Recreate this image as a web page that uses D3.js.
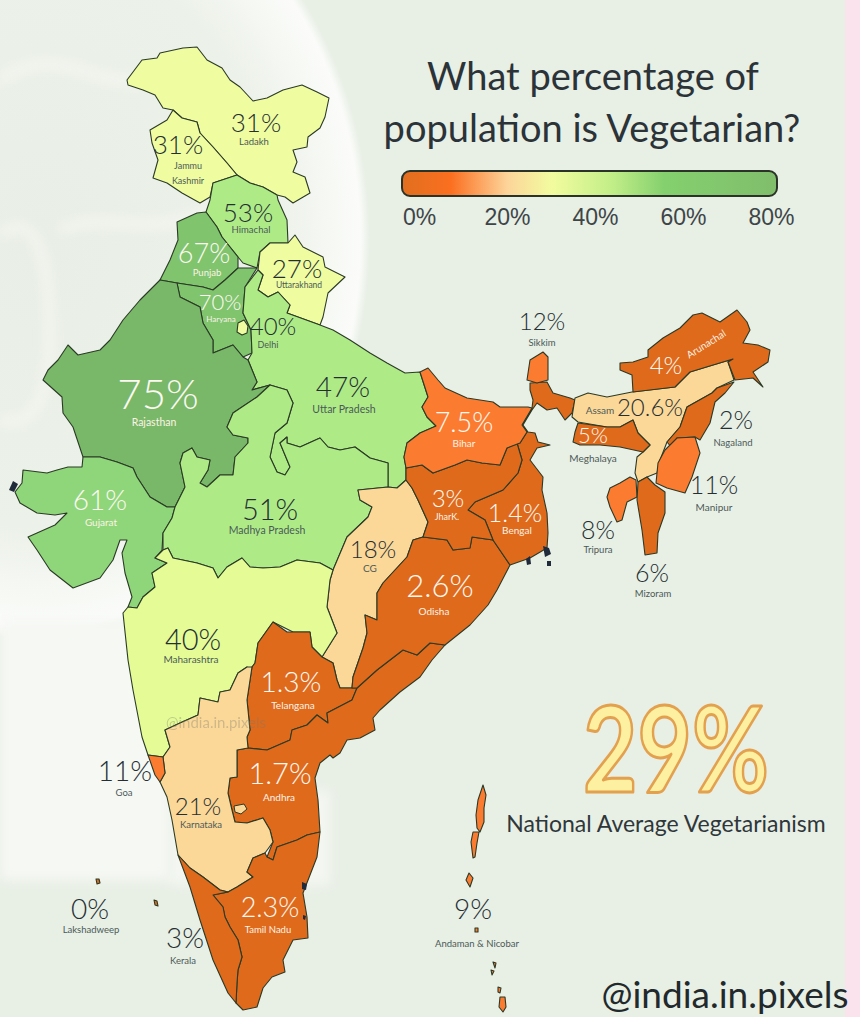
<!DOCTYPE html>
<html>
<head>
<meta charset="utf-8">
<script src="https://cdn.jsdelivr.net/npm/d3@7"></script>
<style>
html, body { margin: 0; padding: 0; background: #e8efe5; }
svg { display: block; font-family: "Lato", "Noto Sans", sans-serif; }
</style>
</head>
<body>
<div id="chart"></div>
<script>
const width = 860, height = 1017;

// Values
const stateNames = ["Ladakh", "Jammu Kashmir", "Himachal", "Punjab", "Haryana", "Uttarakhand", "Delhi", "Uttar Pradesh",
    "Rajasthan", "Gujarat", "Madhya Pradesh", "CG", "Maharashtra", "Telangana", "Andhra", "Karnataka", "Tamil Nadu",
    "Goa", "Kerala", "Lakshadweep", "Andaman & Nicobar", "Odisha", "Bengal", "JharK.", "Bihar", "Sikkim", "Assam",
    "Arunachal", "Meghalaya", "Nagaland", "Manipur", "Tripura", "Mizoram"];
const stateValues = [31, 31, 53, 67, 70, 27, 40, 47, 75, 61, 51, 18, 40, 1.3, 1.7, 21, 2.3, 11, 3, 0, 9, 2.6, 1.4, 3, 7.5, 12,
    20.6, 4, 5, 2, 11, 8, 6];
const legendTicks = [0, 20, 40, 60, 80];
const nationalAverage = 29;

// Boundaries, in map units
const shapes = {
    "Ladakh": [[[127,80],[142,60],[157,58],[160,53],[183,48],[197,47],[207,60],[222,68],[230,80],[240,87],[253,101],[267,98],[283,90],[302,85],[317,92],[329,98],[325,117],[320,128],[308,137],[307,147],[293,150],[297,162],[293,172],[305,177],[310,193],[293,203],[285,197],[277,195],[263,187],[250,183],[237,175],[227,163],[213,147],[200,133],[197,122],[182,118],[173,110],[163,108],[155,95],[143,90],[128,85]]],
    "Jammu Kashmir": [[[173,110],[167,120],[150,130],[152,143],[158,160],[153,178],[167,183],[182,193],[200,203],[210,197],[213,183],[237,175],[227,163],[213,147],[200,133],[197,122],[182,118]]],
    "Himachal": [[[237,175],[213,183],[210,200],[206,212],[217,227],[222,237],[230,247],[238,257],[243,263],[257,268],[260,252],[270,243],[288,243],[287,220],[278,200],[277,195],[263,187],[250,183]]],
    "Punjab": [[[206,212],[197,213],[177,222],[178,240],[170,260],[160,280],[177,283],[190,285],[203,287],[213,290],[225,280],[238,268],[238,257],[230,247],[222,237],[217,227]]],
    "Haryana": [[[257,268],[238,268],[225,280],[213,290],[203,287],[190,285],[177,283],[180,297],[200,307],[203,323],[213,340],[213,353],[233,345],[243,357],[252,353],[251,330],[243,313],[245,287]]],
    "Uttarakhand": [[[295,235],[288,243],[270,243],[260,252],[258,270],[263,275],[258,290],[268,297],[278,292],[290,305],[287,313],[320,325],[323,317],[328,293],[345,277],[325,267],[323,257],[303,247]]],
    "Delhi": [[[238,323],[244,320],[248,326],[247,333],[242,335],[237,332]]],
    "Uttar Pradesh": [[[245,287],[243,313],[251,330],[252,353],[248,360],[257,382],[252,390],[270,385],[287,390],[293,403],[287,423],[275,433],[270,457],[277,472],[285,475],[290,467],[280,443],[287,437],[287,443],[300,447],[320,438],[328,447],[340,450],[355,447],[370,458],[388,463],[388,487],[397,488],[406,480],[406,468],[404,457],[407,443],[420,433],[436,426],[427,417],[422,407],[428,397],[420,372],[405,373],[387,363],[370,353],[350,340],[333,330],[320,325],[287,313],[290,305],[278,292],[268,297],[258,290],[263,275],[258,270]]],
    "Rajasthan": [[[160,280],[140,300],[123,320],[110,340],[100,350],[78,355],[68,345],[58,360],[48,370],[43,380],[62,397],[63,413],[73,427],[83,457],[100,457],[117,462],[133,468],[137,477],[150,497],[167,507],[175,507],[185,487],[180,463],[183,453],[192,448],[197,457],[210,460],[208,470],[200,483],[207,487],[220,475],[233,475],[235,457],[248,443],[248,438],[233,435],[227,427],[233,413],[257,397],[270,385],[252,390],[257,382],[248,360],[243,357],[233,345],[213,353],[213,340],[203,323],[200,307],[180,297],[177,283]]],
    "Gujarat": [[[83,457],[82,467],[68,467],[57,470],[47,473],[23,470],[22,483],[15,492],[20,503],[37,513],[55,515],[67,513],[55,525],[37,533],[28,537],[37,550],[50,570],[73,588],[100,578],[113,560],[120,540],[127,540],[122,553],[125,573],[132,597],[128,607],[137,608],[143,597],[155,587],[152,573],[167,563],[155,558],[162,550],[163,533],[172,518],[175,507],[167,507],[150,497],[137,477],[133,468],[117,462],[100,457]]],
    "Madhya Pradesh": [[[175,507],[185,487],[180,463],[183,453],[192,448],[197,457],[210,460],[208,470],[200,483],[207,487],[220,475],[233,475],[235,457],[248,443],[248,438],[233,435],[227,427],[233,413],[257,397],[270,385],[287,390],[293,403],[287,423],[275,433],[270,457],[277,472],[285,475],[290,467],[280,443],[287,437],[287,443],[300,447],[320,438],[328,447],[340,450],[355,447],[370,458],[388,463],[388,487],[358,490],[360,500],[372,507],[368,517],[347,537],[333,570],[320,563],[297,560],[280,567],[263,568],[250,567],[242,558],[227,567],[218,578],[213,568],[197,563],[173,558],[168,548],[163,550],[163,533],[172,518]]],
    "CG": [[[388,487],[397,488],[406,480],[412,488],[418,500],[428,522],[423,537],[413,540],[407,557],[383,583],[377,593],[377,620],[365,615],[367,633],[363,648],[353,677],[352,688],[340,688],[337,680],[333,663],[322,657],[337,633],[327,607],[330,580],[333,570],[347,537],[368,517],[372,507],[360,500],[358,490]]],
    "Maharashtra": [[[128,607],[137,608],[143,597],[155,587],[152,573],[167,563],[155,558],[163,550],[168,548],[173,558],[197,563],[213,568],[218,578],[227,567],[242,558],[250,567],[263,568],[280,567],[297,560],[320,563],[333,570],[330,580],[327,607],[337,633],[322,657],[312,647],[310,632],[293,632],[273,622],[258,643],[255,663],[250,670],[247,667],[238,673],[230,690],[220,692],[218,702],[200,698],[198,715],[180,723],[165,730],[170,747],[163,757],[148,755],[142,737],[133,690],[128,660],[123,613]]],
    "Goa": [[[148,755],[163,757],[165,773],[160,782],[155,775]]],
    "Karnataka": [[[247,667],[238,673],[230,690],[220,692],[218,702],[200,698],[198,715],[180,723],[165,730],[170,747],[163,757],[165,773],[160,782],[167,797],[172,820],[178,855],[190,868],[203,877],[220,890],[228,892],[237,887],[253,877],[247,872],[253,858],[265,853],[273,842],[270,830],[263,818],[247,823],[235,822],[232,810],[228,793],[230,778],[237,777],[237,750],[248,748],[247,737],[250,730],[247,700],[252,667]]],
    "Telangana": [[[273,622],[287,632],[310,632],[312,647],[322,657],[333,663],[337,680],[340,688],[357,688],[352,700],[327,713],[328,723],[317,715],[307,725],[292,730],[290,740],[267,750],[248,748],[247,737],[250,730],[247,700],[252,667],[255,663],[258,643]]],
    "Andhra": [[[248,748],[237,750],[237,777],[230,778],[228,793],[232,810],[235,822],[247,823],[263,818],[270,830],[273,842],[267,857],[273,860],[277,847],[297,840],[307,835],[320,832],[318,800],[315,778],[320,763],[330,755],[333,758],[340,753],[347,740],[360,738],[375,730],[373,718],[380,710],[400,692],[420,677],[432,660],[445,645],[430,643],[417,655],[403,650],[377,670],[357,688],[352,700],[327,713],[328,723],[317,715],[307,725],[292,730],[290,740],[267,750]]],
    "Tamil Nadu": [[[320,832],[307,835],[297,840],[277,847],[273,860],[267,857],[265,853],[253,858],[247,872],[253,877],[237,887],[228,892],[213,895],[223,907],[225,917],[230,927],[238,940],[242,957],[238,970],[237,983],[236,1003],[243,1010],[257,1007],[263,988],[272,977],[285,972],[283,960],[293,940],[308,938],[307,917],[303,893],[317,857]]],
    "Kerala": [[[178,855],[190,868],[203,877],[220,890],[228,892],[213,895],[223,907],[225,917],[230,927],[238,940],[242,957],[238,970],[237,983],[236,1003],[228,993],[213,960],[200,920],[190,887]]],
    "Lakshadweep": [[[96,879],[99,879],[100,883],[97,884]], [[154,900],[157,901],[158,906],[155,905]]],
    "Andaman & Nicobar": [[[483,785],[486,795],[484,808],[484,822],[480,832],[477,828],[476,815],[478,800]], [[479,832],[477,843],[475,857],[473,858],[471,842],[473,832]], [[469,873],[473,878],[470,887],[466,880]], [[500,997],[505,997],[506,1007],[503,1012],[499,1007]], [[475,928],[478,928],[478,932],[475,932]], [[493,962],[496,963],[495,968]], [[491,970],[494,971],[492,975]], [[498,987],[501,988],[500,993],[498,992]]],
    "Odisha": [[[423,537],[447,540],[453,550],[470,548],[472,537],[493,540],[510,565],[497,590],[488,605],[470,625],[445,645],[430,643],[417,655],[403,650],[377,670],[357,688],[352,688],[353,677],[363,648],[367,633],[365,615],[377,620],[377,593],[383,583],[407,557],[413,540]]],
    "Bengal": [[[530,383],[547,382],[553,393],[570,398],[575,400],[572,413],[565,420],[557,408],[547,410],[537,403],[532,410],[523,425],[528,432],[535,433],[538,442],[550,445],[537,448],[530,460],[543,477],[542,490],[547,513],[548,533],[547,548],[530,558],[510,565],[493,540],[485,520],[468,510],[475,502],[503,490],[518,473],[522,460],[517,443],[520,443],[527,432],[522,425],[532,408],[533,400],[530,390]]],
    "JharK.": [[[406,468],[422,465],[433,473],[455,465],[467,460],[482,463],[500,465],[507,448],[517,443],[522,460],[518,473],[503,490],[475,502],[468,510],[485,520],[493,540],[472,537],[470,548],[453,550],[447,540],[423,537],[428,522],[418,500],[412,488],[406,480]]],
    "Bihar": [[[420,372],[428,368],[438,380],[445,388],[467,398],[493,402],[500,407],[528,407],[532,408],[522,425],[527,432],[520,443],[507,448],[500,465],[482,463],[467,460],[455,465],[433,473],[422,465],[406,468],[404,457],[407,443],[420,433],[436,426],[427,417],[422,407],[428,397]]],
    "Sikkim": [[[530,360],[543,352],[548,357],[548,380],[537,383],[527,380]]],
    "Assam": [[[575,398],[588,393],[607,397],[632,392],[675,387],[690,372],[713,365],[733,359],[728,362],[734,380],[717,388],[712,393],[687,407],[680,427],[667,442],[660,460],[657,473],[647,477],[638,482],[635,473],[637,457],[643,452],[650,445],[638,433],[633,420],[620,427],[607,427],[578,422],[572,417]]],
    "Arunachal": [[[620,363],[633,362],[648,357],[648,350],[663,338],[680,328],[693,315],[702,313],[720,322],[737,310],[747,322],[750,330],[743,343],[758,345],[770,350],[768,362],[753,372],[763,387],[753,378],[735,380],[728,362],[733,359],[713,365],[690,372],[675,387],[633,392],[632,375],[620,370]]],
    "Meghalaya": [[[578,423],[607,427],[620,427],[633,420],[638,433],[650,445],[643,452],[620,447],[600,445],[580,445],[573,442],[575,432]]],
    "Nagaland": [[[734,382],[725,393],[715,402],[710,423],[700,440],[695,437],[677,438],[672,448],[667,442],[680,427],[687,407],[712,393],[717,388]]],
    "Manipur": [[[695,437],[700,453],[692,477],[685,493],[667,488],[656,483],[658,463],[665,450],[677,438]]],
    "Tripura": [[[630,477],[636,480],[637,497],[627,502],[622,520],[617,522],[610,507],[607,497],[610,488],[620,483]]],
    "Mizoram": [[[638,482],[647,477],[655,485],[665,492],[665,513],[658,533],[657,553],[645,555],[642,530],[637,500]]]
};
const enclaves = [
    { state: "Karnataka", ring: [[234,806],[244,804],[247,809],[241,814],[235,812]] }
];
const darkSpecks = [
    [[13,481],[18,484],[14,492],[9,490]],
    [[302,882],[307,884],[306,890],[302,889]],
    [[303,915],[306,916],[305,920],[303,919]],
    [[526,559],[530,556],[531,564],[527,565]],
    [[543,546],[549,548],[551,554],[545,557]],
    [[547,561],[551,561],[551,566],[547,566]]
];

// Label placement: [cx, value baseline, value size, name baseline, name size, cx of name]
const labelSpots = {
    "Ladakh": [256,132,26,145,9.5,254], "Jammu Kashmir": [178,154,26,169,9,188], "Himachal": [248,222,26,233,9.5,251],
    "Punjab": [204,263,27,276,9.5,207], "Haryana": [220,310,22,322,8,221], "Uttarakhand": [297,278,26,288,8.5,299],
    "Delhi": [273,335,24,348,9,268], "Uttar Pradesh": [343,397,28,413,10.5,344], "Rajasthan": [158,409,42,426,10.5,154],
    "Gujarat": [100,510,28,526,10,101], "Madhya Pradesh": [270,520,29,534,10.5,267], "CG": [373,558,24,572,10,370],
    "Maharashtra": [193,650,29,663,10,191], "Telangana": [291,692,28,709,10,293], "Andhra": [280,784,29,801,10,279],
    "Karnataka": [198,815,24,828,9.5,201], "Tamil Nadu": [270,917,27,933,9.5,268], "Goa": [125,781,28,796,9.5,124],
    "Kerala": [185,948,28,964,9.5,183], "Lakshadweep": [90,919,28,933,9.5,91], "Andaman & Nicobar": [473,919,28,947,9.5,477],
    "Odisha": [440,597,31,615,10,434], "Bengal": [515,522,25,534,10,517], "JharK.": [448,507,24,520,9,447],
    "Bihar": [464,432,27,447,10,464], "Sikkim": [542,330,24,346,9.5,542], "Assam": [650,416,24,414,10,600],
    "Arunachal": [666,374,24,347,10,708], "Meghalaya": [593,443,22,462,10,593], "Nagaland": [736,429,25,446,9.5,733],
    "Manipur": [714,494,25,511,10,714], "Tripura": [598,539,25,553,9.5,598], "Mizoram": [652,582,25,597,9.5,653]
};
const whiteLabels = ["Punjab", "Haryana", "Rajasthan", "Gujarat", "Telangana", "Andhra", "Tamil Nadu", "Odisha", "Bengal", "JharK.", "Bihar", "Arunachal", "Meghalaya"];
const outsideLabels = ["Meghalaya"];

const fillScale = d3.scaleThreshold()
    .domain([7, 15, 25, 35, 45, 58, 65, 72])
    .range(["#df6a1c", "#fb7c30", "#fcd898", "#effc9f", "#e4fb96", "#aeeb87", "#8fd67a", "#80c46e", "#78b868"]);
// Delhi is painted with the pale yellow in the source, like the 30% band
const fillFor = name => name === "Delhi" ? "#effc9f" : fillScale(stateValues[stateNames.indexOf(name)]);

const svg = d3.select("#chart").append("svg").attr("width", width).attr("height", height);
const defs = svg.append("defs");

// Background: sage paper with a washed out plate and leaves on the left
const plate = defs.append("radialGradient").attr("id", "plate").attr("cx", 0.5).attr("cy", 0.5).attr("r", 0.5);
plate.append("stop").attr("offset", "0%").attr("stop-color", "#e9eee6");
plate.append("stop").attr("offset", "72%").attr("stop-color", "#ecf1e9");
plate.append("stop").attr("offset", "90%").attr("stop-color", "#f7f9f5");
plate.append("stop").attr("offset", "97%").attr("stop-color", "#fbfcfa");
plate.append("stop").attr("offset", "100%").attr("stop-color", "#e8efe5");
defs.append("filter").attr("id", "soft").append("feGaussianBlur").attr("stdDeviation", 6);

const bg = svg.append("g");
bg.append("rect").attr("width", width).attr("height", height).attr("fill", "#e8efe5");
bg.append("ellipse").attr("cx", 40).attr("cy", 240).attr("rx", 330).attr("ry", 400).attr("fill", "url(#plate)");
bg.append("rect").attr("x", 0).attr("y", 620).attr("width", 170).attr("height", 260).attr("fill", "#f6f8f4").attr("filter", "url(#soft)");
bg.append("rect").attr("x", 170).attr("y", 790).attr("width", 160).attr("height", 95).attr("fill", "#f4f7f2").attr("filter", "url(#soft)");
const swirls = bg.append("g").attr("fill", "none").attr("stroke", "#f6f8f3").attr("stroke-width", 7).attr("filter", "url(#soft)");
swirls.append("path").attr("d", "M0,80 C60,40 90,90 150,80");
swirls.append("path").attr("d", "M0,235 C40,205 50,270 50,340 C50,400 30,430 0,420");
swirls.append("path").attr("d", "M60,230 C110,210 150,240 210,210");
bg.append("rect").attr("x", 845).attr("width", 15).attr("height", height).attr("fill", "#fae3ec");

// The traced units are the page's own, so the projection stays at scale 1
const projection = d3.geoIdentity().scale(1).translate([0, 0]);
const path = d3.geoPath(projection);
const features = stateNames.map(name => ({
    type: "Feature",
    properties: { name },
    geometry: { type: "MultiPolygon", coordinates: shapes[name].map(ring => [ring.concat([ring[0]])]) }
}));

svg.append("g").selectAll("path")
    .data(features)
    .enter()
    .append("path")
    .attr("d", path)
    .attr("fill", d => fillFor(d.properties.name))
    .attr("stroke", "#2b3a26")
    .attr("stroke-width", 1.1)
    .attr("stroke-linejoin", "round");

svg.append("g").selectAll("path")
    .data(enclaves)
    .enter()
    .append("path")
    .attr("d", d => path({ type: "Polygon", coordinates: [d.ring.concat([d.ring[0]])] }))
    .attr("fill", d => fillFor(d.state))
    .attr("stroke", "#2b3a26");

svg.append("g").selectAll("path")
    .data(darkSpecks)
    .enter()
    .append("path")
    .attr("d", d => path({ type: "Polygon", coordinates: [d.concat([d[0]])] }))
    .attr("fill", "#1f2a3a");

// Labels
const labels = svg.append("g").attr("text-anchor", "middle");
stateNames.forEach((name, i) => {
    const [cx, vy, vs, ny, ns, nx] = labelSpots[name];
    const isWhite = whiteLabels.includes(name);
    labels.append("text").attr("x", cx).attr("y", vy).attr("font-size", vs).attr("font-weight", 300)
        .attr("fill", isWhite ? "#fdf9f2" : "#252f33").text(stateValues[i] + "%");
    const nameColor = isWhite && !outsideLabels.includes(name) ? "#fdf3e6" : "#4b5a58";
    if (name === "Jammu Kashmir") {
        labels.append("text").attr("x", nx).attr("y", ny).attr("font-size", ns).attr("fill", nameColor).text("Jammu");
        labels.append("text").attr("x", nx).attr("y", ny + 15).attr("font-size", ns).attr("fill", nameColor).text("Kashmir");
    } else if (name === "Arunachal") {
        labels.append("text").attr("transform", `translate(${nx},${ny}) rotate(-32)`).attr("font-size", ns).attr("fill", nameColor).text(name);
    } else {
        labels.append("text").attr("x", nx).attr("y", ny).attr("font-size", ns).attr("fill", nameColor).text(name);
    }
});

// Title
const title = svg.append("g").attr("text-anchor", "middle").attr("fill", "#2b3338");
title.append("text").attr("x", 593).attr("y", 90).attr("font-size", 38).text("What percentage of");
title.append("text").attr("x", 592).attr("y", 142).attr("font-size", 38).text("population is Vegetarian?");

// Legend
const legendScale = d3.scaleLinear().domain([0, 80]).range([419, 771]);
const legendStops = [[0, "#e06f1f"], [0.13, "#fb6f20"], [0.28, "#fdd49a"], [0.4, "#f2fc9f"], [0.56, "#c2ee88"], [0.7, "#84d06e"], [1, "#80bd6c"]];
const legendGrad = defs.append("linearGradient").attr("id", "legendGrad");
legendGrad.selectAll("stop").data(legendStops).enter().append("stop")
    .attr("offset", d => d[0]).attr("stop-color", d => d[1]);
svg.append("rect").attr("x", 402).attr("y", 171).attr("width", 375).attr("height", 25).attr("rx", 8)
    .attr("fill", "url(#legendGrad)").attr("stroke", "#2b3328").attr("stroke-width", 2);
const legendAxis = d3.axisBottom(legendScale).tickValues(legendTicks).tickSize(0).tickPadding(0).tickFormat(d => d + "%");
const legendG = svg.append("g").attr("transform", "translate(0,209)").call(legendAxis);
legendG.select(".domain").remove();
legendG.selectAll("text").attr("font-family", "inherit").attr("font-size", 23).attr("fill", "#3d4548");

// National average
svg.append("text").attr("x", 676).attr("y", 792).attr("text-anchor", "middle").attr("font-size", 118).attr("font-weight", 700)
    .attr("textLength", 186).attr("lengthAdjust", "spacingAndGlyphs")
    .attr("fill", "#fdf0a0").attr("stroke", "#e3a14f").attr("stroke-width", 3).attr("stroke-linejoin", "round")
    .text(nationalAverage + "%");
svg.append("text").attr("x", 666).attr("y", 832).attr("text-anchor", "middle").attr("font-size", 23)
    .attr("fill", "#2f373b").text("National Average Vegetarianism");

// Handle and watermark
svg.append("text").attr("x", 725).attr("y", 1008).attr("text-anchor", "middle").attr("font-size", 37)
    .attr("fill", "#22292c").text("@india.in.pixels");
svg.append("text").attr("x", 216).attr("y", 728).attr("text-anchor", "middle").attr("font-size", 15)
    .attr("fill", "#7a7a6a").attr("opacity", 0.35).text("@india.in.pixels");
</script>
</body>
</html>
